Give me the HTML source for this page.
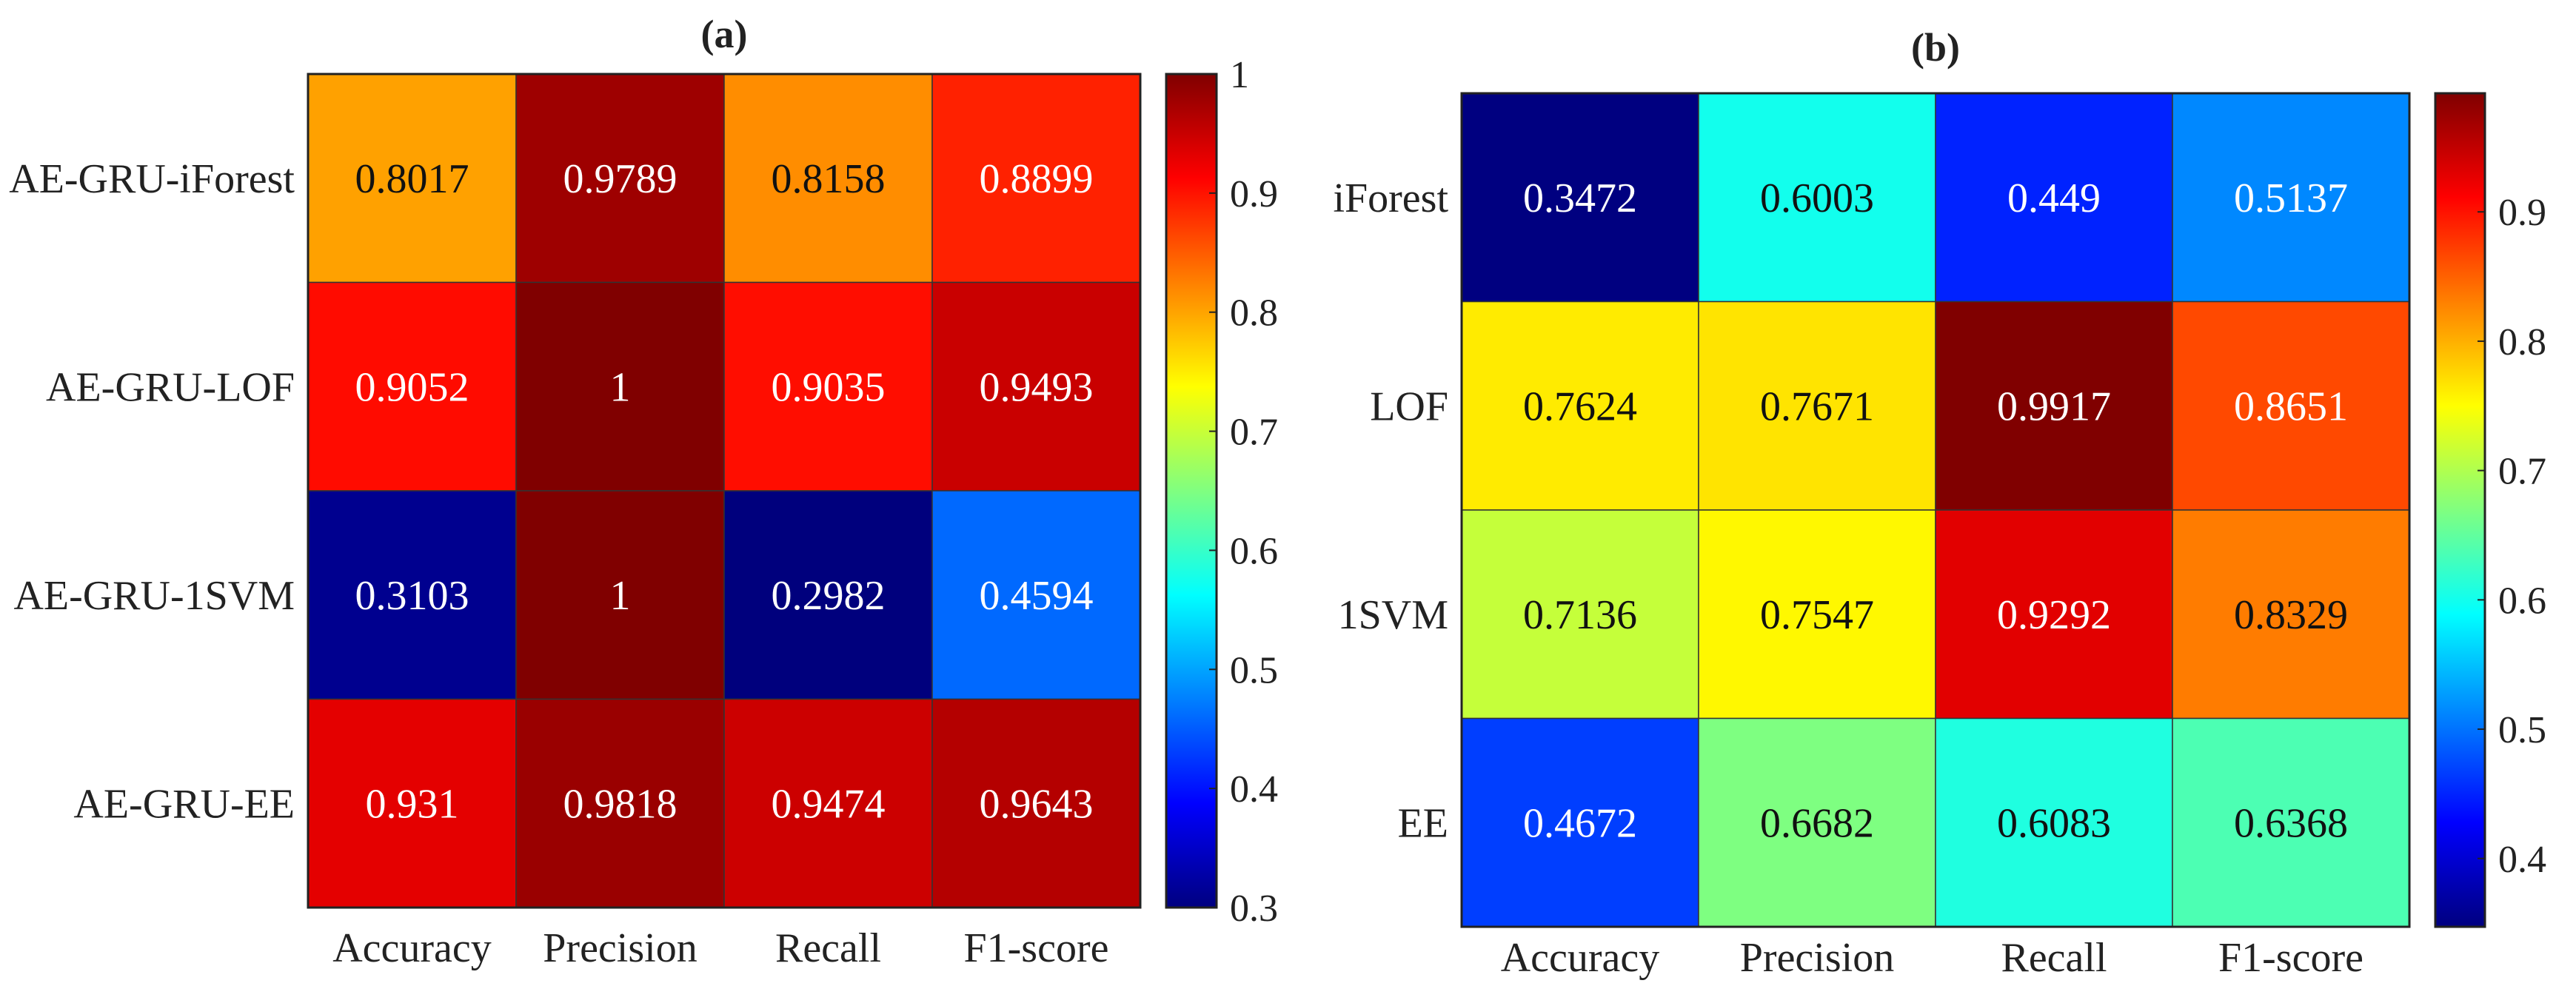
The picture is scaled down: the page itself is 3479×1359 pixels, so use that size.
<!DOCTYPE html>
<html><head><meta charset="utf-8"><style>
html,body{margin:0;padding:0;background:#fff;overflow:hidden;}
svg{display:block;}
text{font-family:"Liberation Serif",serif;}
</style></head><body>
<svg id="fig" width="3479" height="1359" viewBox="0 0 3479 1359"></svg>
<script>
const colsA = ["Accuracy","Precision","Recall","F1-score"];
const rowsA = ["AE-GRU-iForest","AE-GRU-LOF","AE-GRU-1SVM","AE-GRU-EE"];
const valsA = [[0.8017,0.9789,0.8158,0.8899],[0.9052,1,0.9035,0.9493],[0.3103,1,0.2982,0.4594],[0.931,0.9818,0.9474,0.9643]];
const ticksA = [0.3,0.4,0.5,0.6,0.7,0.8,0.9,1];
const rangeA = [0.3,1];
const colsB = ["Accuracy","Precision","Recall","F1-score"];
const rowsB = ["iForest","LOF","1SVM","EE"];
const valsB = [[0.3472,0.6003,0.449,0.5137],[0.7624,0.7671,0.9917,0.8651],[0.7136,0.7547,0.9292,0.8329],[0.4672,0.6682,0.6083,0.6368]];
const ticksB = [0.4,0.5,0.6,0.7,0.8,0.9];
const rangeB = [0.3472,0.9917];

const NS="http://www.w3.org/2000/svg";
const svg=document.getElementById('fig');
function mk(tag,attrs,parent){const e=document.createElementNS(NS,tag);for(const k in attrs)e.setAttribute(k,attrs[k]);(parent||svg).appendChild(e);return e;}
function cl(x){return Math.max(0,Math.min(1,x));}
function jet(n){const r=cl(1.5-Math.abs(4*n-3)),g=cl(1.5-Math.abs(4*n-2)),b=cl(1.5-Math.abs(4*n-1));return `rgb(${Math.round(r*255)},${Math.round(g*255)},${Math.round(b*255)})`;}

function panel(id,title,cols,rows,vals,ticks,range,L,T,R,B,cbL,cbR,titleY,xlabY){
  const g=mk('g',{});
  
  
  const cw=(R-L)/cols.length, ch=(B-T)/rows.length;
  const norm=v=>(v-range[0])/(range[1]-range[0]);
  const t=mk('text',{x:(L+R)/2,y:titleY,'text-anchor':'middle','font-size':54,'font-weight':'bold',fill:'#222'},g);
  t.textContent=title;
  
  
  rows.forEach((rn,i)=>{
    cols.forEach((cn,j)=>{
      const v=vals[i][j], n=norm(v);
      const r=mk('rect',{x:L+j*cw,y:T+i*ch,width:cw,height:ch,fill:jet(n),stroke:'#333','stroke-width':1.5},g);
      
      
      const tx=mk('text',{x:L+(j+0.5)*cw,y:T+(i+0.5)*ch+19,'text-anchor':'middle','font-size':56,fill:(n<0.3||n>0.78)?'#fff':'#111'},g);
      tx.textContent=String(v);
      
      
    });
    const lb=mk('text',{x:L-18,y:T+(i+0.5)*ch+19,'text-anchor':'end','font-size':56,fill:'#222'},g);
    lb.textContent=rn;
    
    
  });
  cols.forEach((cn,j)=>{
    const lb=mk('text',{x:L+(j+0.5)*cw,y:xlabY,'text-anchor':'middle','font-size':56,fill:'#222'},g);
    lb.textContent=cn;
    
    
  });
  mk('rect',{x:L,y:T,width:R-L,height:B-T,fill:'none',stroke:'#222','stroke-width':3},g);
  const defs=mk('defs',{},g);
  const gr=mk('linearGradient',{id:id+'-grad',x1:0,y1:1,x2:0,y2:0},defs);
  for(let k=0;k<=32;k++){mk('stop',{offset:k/32,'stop-color':jet(k/32)},gr);}
  const cb=mk('rect',{x:cbL,y:T,width:cbR-cbL,height:B-T,fill:`url(#${id}-grad)`,stroke:'#222','stroke-width':3},g);
  
  
  ticks.forEach(tv=>{
    const y=B-norm(tv)*(B-T);
    mk('line',{x1:cbR-10,x2:cbR,y1:y,y2:y,stroke:'#222','stroke-width':2},g);
    const tl=mk('text',{x:cbR+18,y:y+18,'font-size':52,fill:'#222'},g);
    tl.textContent=String(tv);
    
    
  });
}
panel('panel-a','(a)',colsA,rowsA,valsA,ticksA,rangeA,416,100,1540,1226,1575,1643,64,1299);
panel('panel-b','(b)',colsB,rowsB,valsB,ticksB,rangeB,1974,126,3254,1252,3289,3356,82,1312);
</script>
</body></html>
